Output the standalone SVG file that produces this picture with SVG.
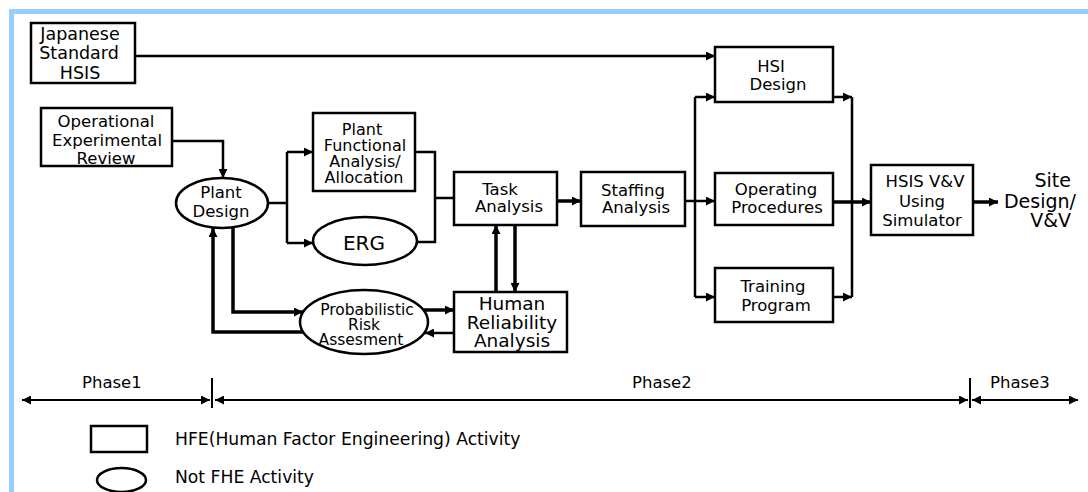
<svg xmlns="http://www.w3.org/2000/svg" width="1088" height="492" viewBox="0 0 1088 492">
<style>
  .box { fill: #fff; stroke: #000; stroke-width: 2.5; }
  .ell { fill: #fff; stroke: #000; stroke-width: 2.5; }
  .t { font-family: "DejaVu Sans", "Liberation Sans", sans-serif; font-size: 16.5px; fill: #000; text-anchor: middle; }
  .big { font-size: 18.5px; }
  .sm { font-size: 15.5px; }
  .pf { font-size: 16px; }
  .c { fill: none; stroke: #000; stroke-width: 2.5; }
  .k { fill: none; stroke: #000; stroke-width: 3.5; }
  .p { fill: none; stroke: #000; stroke-width: 2; }
  .lg { font-family: "DejaVu Sans", "Liberation Sans", sans-serif; font-size: 16.5px; fill: #000; }
</style>
<defs>
  <marker id="ah" viewBox="0 0 10 10" refX="10" refY="5" markerWidth="9" markerHeight="9" markerUnits="userSpaceOnUse" orient="auto-start-reverse">
    <path d="M0,0 L10,5 L0,10 z" fill="#000"/>
  </marker>
</defs>
<rect x="0" y="0" width="1088" height="492" fill="#fff"/>
<rect x="9" y="9" width="1079" height="5" fill="#99ccff"/>
<rect x="9" y="9" width="5" height="483" fill="#99ccff"/>

<g id="connectors">
  <path class="c" d="M135,56 H715" marker-end="url(#ah)"/>
  <path class="c" d="M172,141 H223 V178" marker-end="url(#ah)"/>
  <path class="c" d="M268,203 H287"/>
  <path class="c" d="M287,152 V243"/>
  <path class="c" d="M287,152 H313" marker-end="url(#ah)"/>
  <path class="c" d="M287,243 H313" marker-end="url(#ah)"/>
  <path class="c" d="M415,152 H435 V242 H417"/>
  <path class="c" d="M435,198 H454"/>
  <path class="k" d="M557,201 H581" marker-end="url(#ah)"/>
  <path class="c" d="M685,201 H715" marker-end="url(#ah)"/>
  <path class="c" d="M695,97 V297"/>
  <path class="c" d="M695,97 H715" marker-end="url(#ah)"/>
  <path class="c" d="M695,297 H715" marker-end="url(#ah)"/>
  <path class="c" d="M833,97 H852" marker-end="url(#ah)"/>
  <path class="c" d="M833,297 H852" marker-end="url(#ah)"/>
  <path class="c" d="M852,97 V297"/>
  <path class="k" d="M833,202 H871" marker-end="url(#ah)"/>
  <path class="k" d="M973,202 H998" marker-end="url(#ah)"/>
  <path class="k" d="M496,292 V225" marker-end="url(#ah)"/>
  <path class="k" d="M515,225 V292" marker-end="url(#ah)"/>
  <path class="k" d="M423,310 H454" marker-end="url(#ah)"/>
  <path class="c" d="M454,333 H425" marker-end="url(#ah)"/>
  <path class="k" d="M233,228 V312 H303" marker-end="url(#ah)"/>
  <path class="k" d="M304,332 H213 V228" marker-end="url(#ah)"/>
  <path class="p" d="M22,400 H210" marker-start="url(#ah)" marker-end="url(#ah)"/>
  <path class="p" d="M212,378 V408"/>
  <path class="p" d="M215,400 H968" marker-start="url(#ah)" marker-end="url(#ah)"/>
  <path class="p" d="M970,378 V408"/>
  <path class="p" d="M972,400 H1078" marker-start="url(#ah)" marker-end="url(#ah)"/>
</g>

<g id="japanese-standard-hsis">
  <rect class="box" x="31" y="23" width="104" height="60"/>
  <text class="t" x="80" y="40" style="font-size:17.5px">Japanese</text>
  <text class="t" x="79" y="59" style="font-size:17.5px">Standard</text>
  <text class="t" x="80" y="79" style="font-size:17.5px">HSIS</text>
</g>
<g id="operational-experimental-review">
  <rect class="box" x="41" y="108" width="131" height="58"/>
  <text class="t" x="106" y="127">Operational</text>
  <text class="t" x="107" y="146">Experimental</text>
  <text class="t" x="106" y="164">Review</text>
</g>
<g id="plant-design">
  <ellipse class="ell" cx="222" cy="203" rx="46" ry="25"/>
  <text class="t" x="221" y="198">Plant</text>
  <text class="t" x="221" y="217">Design</text>
</g>
<g id="plant-functional-analysis">
  <rect class="box" x="313" y="113" width="102" height="78"/>
  <text class="t pf" x="362" y="135">Plant</text>
  <text class="t pf" x="365" y="151">Functional</text>
  <text class="t pf" x="365" y="167">Analysis/</text>
  <text class="t pf" x="364" y="183">Allocation</text>
</g>
<g id="erg">
  <ellipse class="ell" cx="365" cy="241" rx="52" ry="24"/>
  <text class="t" x="364" y="250" style="font-size:20px">ERG</text>
</g>
<g id="task-analysis">
  <rect class="box" x="454" y="172" width="103" height="53"/>
  <text class="t" x="500" y="195">Task</text>
  <text class="t" x="509" y="212">Analysis</text>
</g>
<g id="staffing-analysis">
  <rect class="box" x="581" y="172" width="104" height="54"/>
  <text class="t" x="633" y="196">Staffing</text>
  <text class="t" x="636" y="213">Analysis</text>
</g>
<g id="human-reliability-analysis">
  <rect class="box" x="454" y="292" width="113" height="60"/>
  <text class="t big" x="512" y="310">Human</text>
  <text class="t big" x="512" y="329">Reliability</text>
  <text class="t big" x="512" y="347">Analysis</text>
</g>
<g id="probabilistic-risk-assessment">
  <ellipse class="ell" cx="364" cy="322" rx="64" ry="32"/>
  <text class="t sm" x="367" y="315">Probabilistic</text>
  <text class="t sm" x="364" y="330">Risk</text>
  <text class="t sm" x="361" y="345">Assesment</text>
</g>
<g id="hsi-design">
  <rect class="box" x="715" y="47" width="118" height="55"/>
  <text class="t" x="771" y="72">HSI</text>
  <text class="t" x="778" y="90">Design</text>
</g>
<g id="operating-procedures">
  <rect class="box" x="715" y="173" width="118" height="52"/>
  <text class="t" x="776" y="195">Operating</text>
  <text class="t" x="777" y="213">Procedures</text>
</g>
<g id="training-program">
  <rect class="box" x="715" y="268" width="118" height="54"/>
  <text class="t" x="773" y="292">Training</text>
  <text class="t" x="776" y="311">Program</text>
</g>
<g id="hsis-vv">
  <rect class="box" x="871" y="165" width="102" height="70"/>
  <text class="t" x="925" y="187">HSIS V&amp;V</text>
  <text class="t" x="922" y="207">Using</text>
  <text class="t" x="922" y="226">Simulator</text>
</g>
<g id="site-design-vv">
  <text class="t" x="1071" y="187" style="font-size:19px;text-anchor:end">Site</text>
  <text class="t" x="1076" y="208" style="font-size:19px;text-anchor:end">Design/</text>
  <text class="t" x="1071" y="227" style="font-size:19px;text-anchor:end">V&amp;V</text>
</g>

<g id="phases">
  <text class="lg" x="82" y="388">Phase1</text>
  <text class="lg" x="632" y="388">Phase2</text>
  <text class="lg" x="990" y="388">Phase3</text>
</g>
<g id="legend">
  <rect class="box" x="91" y="426" width="56" height="26"/>
  <text class="lg" x="175" y="445" style="font-size:17.2px">HFE(Human Factor Engineering) Activity</text>
  <ellipse class="ell" cx="121.5" cy="480" rx="24.5" ry="12"/>
  <text class="lg" x="175" y="483" style="font-size:17.2px">Not FHE Activity</text>
</g>
</svg>
